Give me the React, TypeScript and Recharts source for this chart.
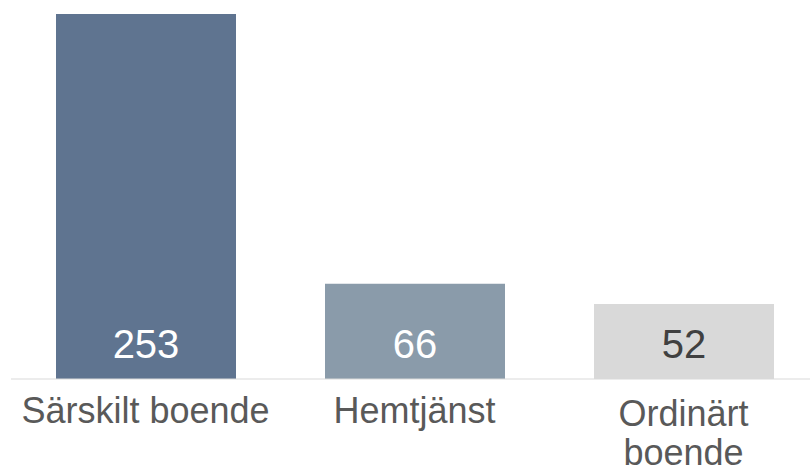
import React from 'react';
import { BarChart, Bar, XAxis, YAxis, Cell, LabelList } from 'recharts';

const categories = ['Särskilt boende', 'Hemtjänst', 'Ordinärt boende'];
const values = [253, 66, 52];
const tickLines = [['Särskilt boende'], ['Hemtjänst'], ['Ordinärt', 'boende']];
const barColors = ['#5F7490', '#8A9BAA', '#D9D9D9'];
const labelColors = ['#FFFFFF', '#FFFFFF', '#404040'];

const data = categories.map((name, i) => ({ name, value: values[i] }));

const FONT = '"Liberation Sans", Arial, sans-serif';

function CategoryTick(props: any) {
  const { x, y, index } = props;
  const lines = tickLines[index] || [props.payload.value];
  const first = y + 44 + (lines.length > 1 ? 3 : 0);
  return (
    <text x={x} y={first} textAnchor="middle" fill="#595959" fontSize={36} fontFamily={FONT}>
      {lines.map((l: string, i: number) => (
        <tspan key={i} x={x} y={first + i * 39}>{l}</tspan>
      ))}
    </text>
  );
}

function ValueLabel(props: any) {
  const { x, y, width, height, value, index } = props;
  return (
    <text
      x={x + width / 2}
      y={y + height - 21}
      textAnchor="middle"
      fill={labelColors[index]}
      fontSize={40}
      fontFamily={FONT}
    >
      {value}
    </text>
  );
}

export default function App() {
  return (
    <div style={{ position: 'absolute', left: 0, top: 0, width: 810, height: 471, overflow: 'hidden', background: '#fff' }}>
      <BarChart width={819} height={471} data={data} margin={{ top: 14, right: 1, bottom: 0, left: 11 }}>
        <XAxis
          dataKey="name"
          axisLine={{ stroke: '#D9D9D9', strokeWidth: 1 }}
          tickLine={false}
          tickSize={0}
          tickMargin={0}
          interval={0}
          tick={<CategoryTick />}
          height={92}
        />
        <YAxis hide domain={[0, 253]} />
        <Bar dataKey="value" barSize={180} isAnimationActive={false}>
          {data.map((d, i) => (
            <Cell key={d.name} fill={barColors[i]} />
          ))}
          <LabelList dataKey="value" content={<ValueLabel />} />
        </Bar>
      </BarChart>
    </div>
  );
}
